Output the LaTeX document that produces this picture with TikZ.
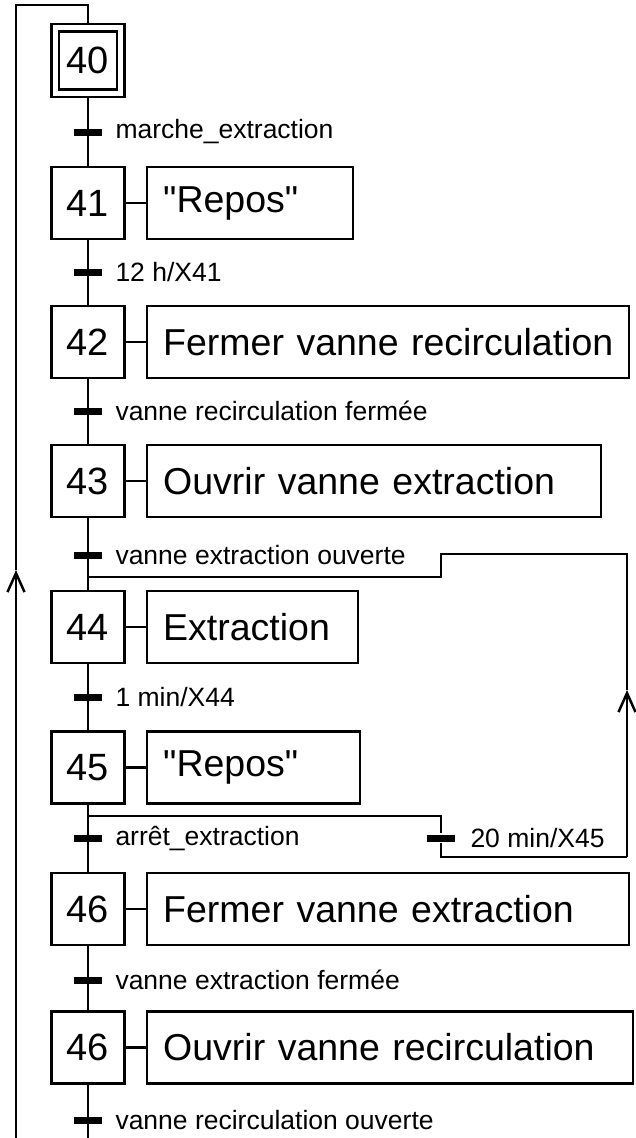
\documentclass[tikz,border=0pt]{standalone}
\usepackage{fontspec}
\setmainfont{Liberation Sans}[Ligatures=TeXOff]
\usetikzlibrary{arrows.meta}
\newcommand{\dq}{\symbol{34}}
\begin{document}
\begin{tikzpicture}[x=1pt,y=-1pt,
  line width=2.5pt,
  stepbox/.style={draw, line width=2.4pt, minimum width=73pt, minimum height=72pt, inner sep=0pt,
    font=\fontsize{38}{42}\selectfont},
  actbox/.style={draw, line width=2.4pt, minimum height=72pt, inner xsep=16pt, inner ysep=0pt,
    anchor=west, align=left, font=\fontsize{37.5}{42}\selectfont},
  tbar/.style={fill=black, draw=none, minimum width=28pt, minimum height=7pt, inner sep=0pt},
  tlabel/.style={anchor=west, inner sep=0pt, font=\fontsize{26.5}{30}\selectfont},
  barb/.style={-{Straight Barb[length=19pt,width=17pt,line width=2.5pt]}}]
\useasboundingbox (0,0) rectangle (636,1138);
% steps
\node[stepbox, minimum width=73pt, minimum height=73pt] (s40) at (88,60.5) {};
\node[stepbox, minimum width=58pt, minimum height=58pt] (s40i) at (s40.center) {40};
\node[stepbox] (s41) at (88,203) {41};
\node[stepbox] (s42) at (88,342) {42};
\node[stepbox] (s43) at (88,481) {43};
\node[stepbox] (s44) at (88,627) {44};
\node[stepbox] (s45) at (88,767.5) {45};
\node[stepbox] (s46) at (88,909) {46};
\node[stepbox] (s47) at (88,1047.5) {46};
% actions
\node[actbox, text width=174pt] (a41) at (146,203) {\mbox{\dq Repos\dq}};
\node[actbox, text width=450pt] (a42) at (146,342) {\mbox{Fermer vanne recirculation}};
\node[actbox, text width=422pt] (a43) at (146,481) {\mbox{Ouvrir vanne extraction}};
\node[actbox, text width=179pt] (a44) at (146,627) {\mbox{Extraction}};
\node[actbox, text width=181pt] (a45) at (146,767.5) {\mbox{\dq Repos\dq}};
\node[actbox, text width=450pt] (a46) at (146,909) {\mbox{Fermer vanne extraction}};
\node[actbox, text width=454pt] (a47) at (146,1047.5) {\mbox{Ouvrir vanne recirculation}};
\foreach \s in {41,42,43,44,45,46,47} {\draw (s\s.east) -- (a\s.west);}
% transitions
\node[tbar] (t1) at (88,132) {};
\node[tbar] (t2) at (88,272) {};
\node[tbar] (t3) at (88,411) {};
\node[tbar] (t4) at (88,555) {};
\node[tbar] (t5) at (88,697) {};
\node[tbar] (t6) at (88,838) {};
\node[tbar] (t7) at (441,838) {};
\node[tbar] (t8) at (88,980) {};
\node[tbar] (t9) at (88,1120) {};
\node[tlabel] (l1) at ([xshift=11pt]t1.east) {marche\_extraction};
\node[tlabel] (l2) at ([xshift=11pt]t2.east) {12 h/X41};
\node[tlabel] (l3) at ([xshift=11pt]t3.east) {vanne recirculation fermée};
\node[tlabel] (l4) at ([xshift=11pt]t4.east) {vanne extraction ouverte};
\node[tlabel] (l5) at ([xshift=11pt]t5.east) {1 min/X44};
\node[tlabel] (l6) at ([xshift=11pt]t6.east) {arrêt\_extraction};
\node[tlabel] (l7) at ([xshift=13pt]t7.east) {20 min/X45};
\node[tlabel] (l8) at ([xshift=11pt]t8.east) {vanne extraction fermée};
\node[tlabel] (l9) at ([xshift=11pt]t9.east) {vanne recirculation ouverte};
% main sequence
\draw (s40.south) -- (s41.north);
\draw (s41.south) -- (s42.north);
\draw (s42.south) -- (s43.north);
\draw (s43.south) -- (s44.north);
\draw (s44.south) -- (s45.north);
\draw (s45.south) -- (s46.north);
\draw (s46.south) -- (s47.north);
\coordinate (mb) at (88,1138);
\draw (s47.south) -- (mb);
% loop back to 40
\coordinate (lb) at (16,1138);
\coordinate (la) at (16,570);
\coordinate (lt) at (16,5);
\coordinate (mt) at (88,5);
\draw[barb] (lb) -- (la);
\draw (la) -- (lt) -- (mt) -- (s40.north);
% branch 45 -> 44
\coordinate (c44) at (88,577);
\coordinate (j1) at (441,577);
\coordinate (j2) at (441,554);
\coordinate (j3) at (627,554);
\coordinate (j4) at (627,857);
\coordinate (j5) at (441,857);
\coordinate (j6) at (441,816);
\coordinate (d45) at (88,816);
\coordinate (ra) at (627,690);
\draw (d45) -- (j6) -- (t7) -- (j5) -- (j4);
\draw[barb] (j4) -- (ra);
\draw (ra) -- (j3) -- (j2) -- (j1) -- (c44);
\end{tikzpicture}
\end{document}
